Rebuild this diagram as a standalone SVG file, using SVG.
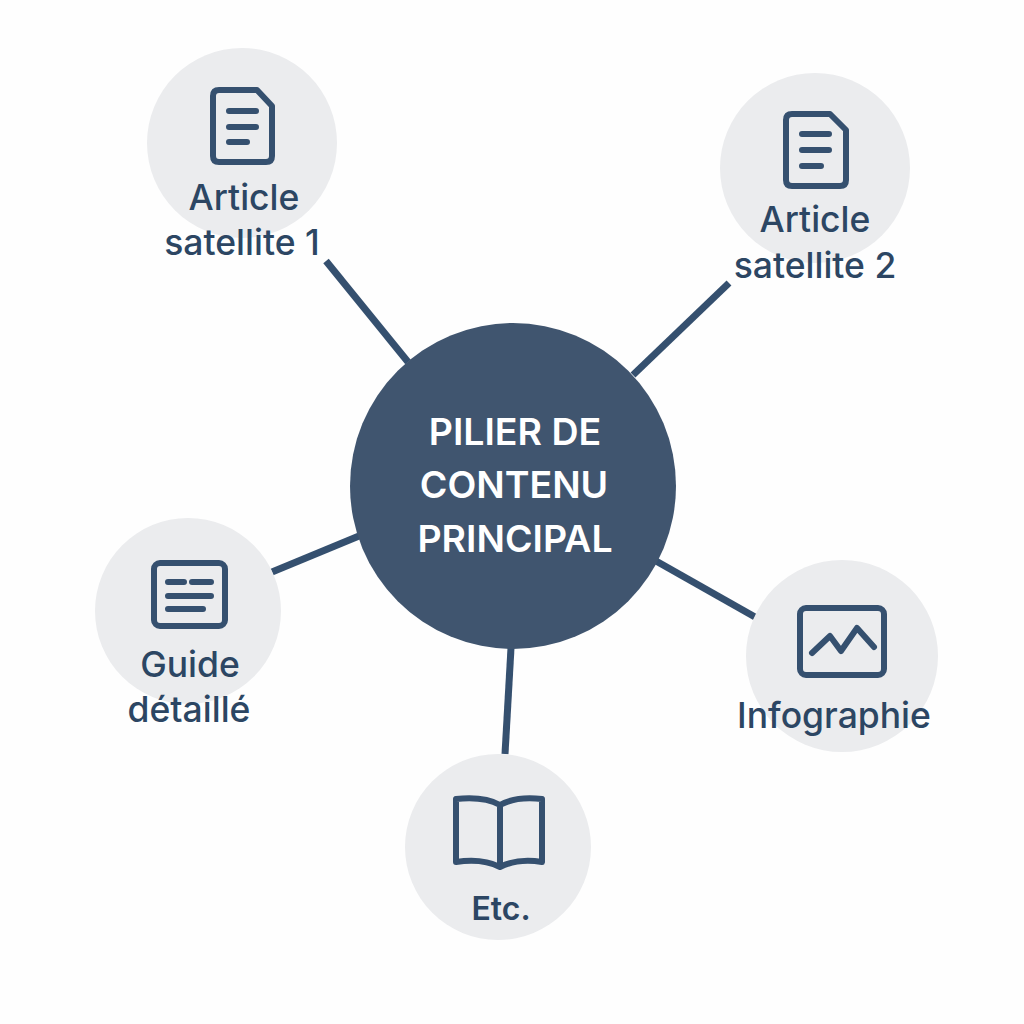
<svg xmlns="http://www.w3.org/2000/svg" width="1024" height="1024" viewBox="0 0 1024 1024">
<style>
.sat{fill:#ebecee}
.hub{fill:#40556f}
.ln{stroke:#35506f;stroke-width:7;fill:none}
.ic{stroke:#35506f;stroke-width:6;stroke-linecap:round;stroke-linejoin:round;fill:none}
text{font-family:Inter,"Liberation Sans",sans-serif;font-weight:500;text-anchor:middle;fill:#2c4663;font-size:35.5px}
.h{fill:#fff;font-weight:600;font-size:37.5px}
</style>
<rect width="1024" height="1024" fill="#fefefe"/>
<g id="connectors">
<path class="ln" d="M326 261L408 362"/>
<path class="ln" d="M729 283L633 375"/>
<path class="ln" d="M272 572L359 536"/>
<path class="ln" d="M656 561L755 617"/>
<path class="ln" d="M511 648L505 754"/>
</g>
<g id="hub"><circle class="hub" cx="513" cy="486" r="163"/>
<text class="h" x="515" y="445">PILIER DE</text><text class="h" x="514" y="498">CONTENU</text><text class="h" x="515" y="552">PRINCIPAL</text></g>
<g id="article1"><circle class="sat" cx="242" cy="143" r="95"/>
<path class="ic" d="M219 90H257L272 106V156Q272 162 266 162H219Q213 162 213 156V96Q213 90 219 90Z"/>
<path class="ic" d="M229 111H256M229 127H256M229 142H247"/>
<text x="244" y="210">Article</text><text x="242" y="255">satellite 1</text></g>
<g id="article2"><circle class="sat" cx="815" cy="168" r="95"/>
<path class="ic" d="M792 114H830L846 130V180Q846 186 840 186H792Q786 186 786 180V120Q786 114 792 114Z"/>
<path class="ic" d="M802 134H829M802 150H829M802 166H821"/>
<text x="815" y="232">Article</text><text x="815" y="278">satellite 2</text></g>
<g id="guide"><circle class="sat" cx="188" cy="611" r="93"/>
<rect class="ic" x="154" y="563" width="71" height="63" rx="6"/>
<path class="ic" d="M168 582H184M192 582H211M168 596H211M168 609H203"/>
<text x="190" y="677">Guide</text><text x="189" y="722">détaillé</text></g>
<g id="infographie"><circle class="sat" cx="842" cy="656" r="96"/>
<rect class="ic" x="800" y="608" width="84" height="67" rx="6"/>
<path class="ic" d="M812 653L830 636L841 651L857 628L874 647"/>
<text x="834" y="728">Infographie</text></g>
<g id="etc"><circle class="sat" cx="498" cy="847" r="93"/>
<path class="ic" d="M500 805Q484 796 456 799V862Q482 858 500 867Q518 858 542 862V799Q516 796 500 805ZM500 805V867"/>
<text x="501" y="920" style="font-size:32px;font-weight:600">Etc.</text></g>
</svg>
